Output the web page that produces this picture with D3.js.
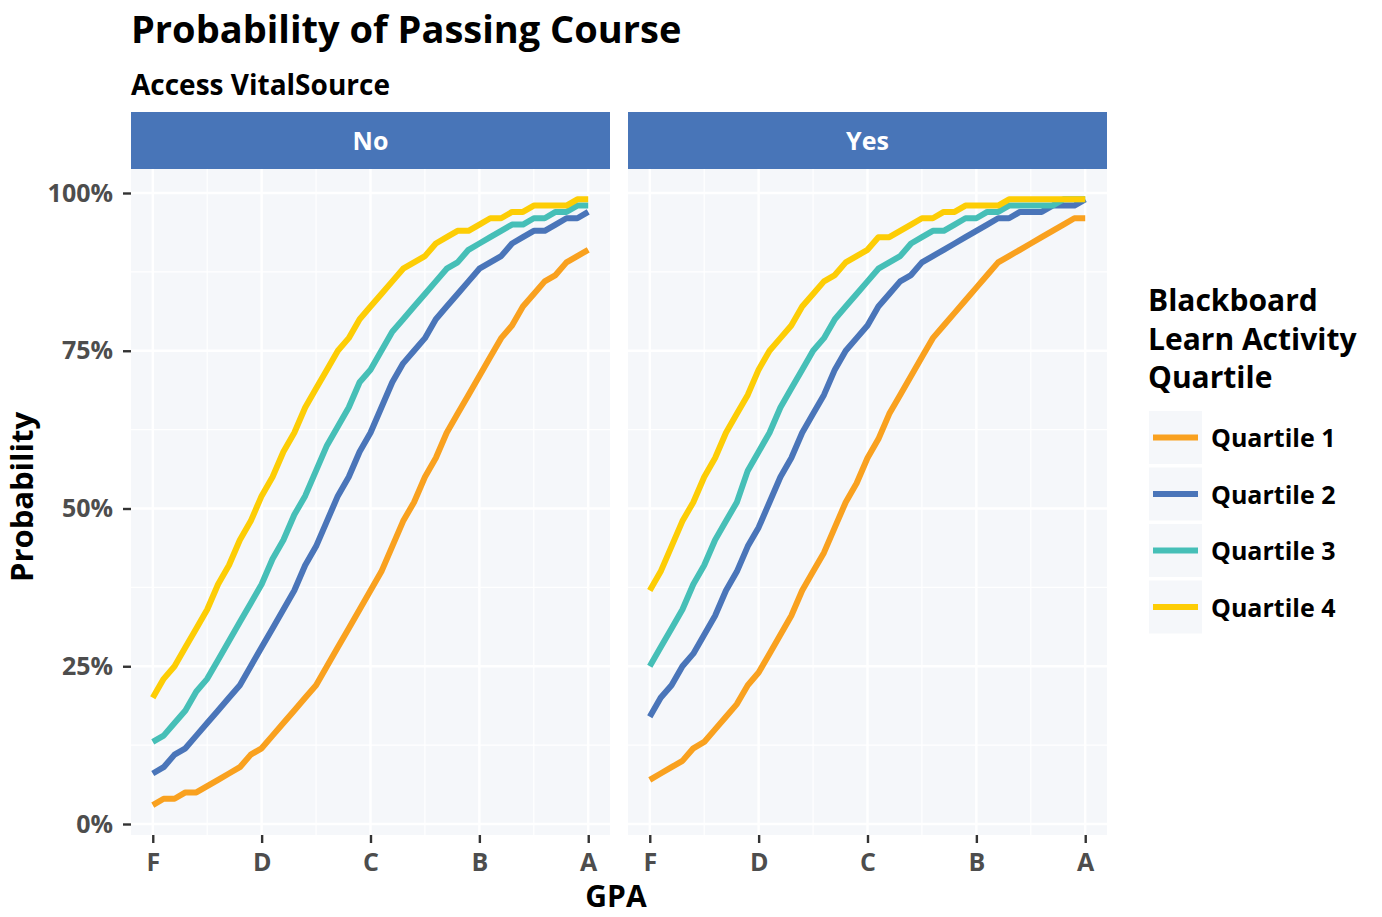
<!DOCTYPE html>
<html>
<head>
<meta charset="utf-8">
<script src="https://cdn.jsdelivr.net/npm/d3@7"></script>
<style>
  body { margin: 0; background: #fff; }
  svg { font-family: "Open Sans", Lato, sans-serif; font-weight: bold; }
</style>
</head>
<body>
<div id="chart"></div>
<script>
// gpa on a 0..4 scale, one point every 0.1
var gpa = [0, 0.1, 0.2, 0.3, 0.4, 0.5, 0.6, 0.7, 0.8, 0.9,
  1, 1.1, 1.2, 1.3, 1.4, 1.5, 1.6, 1.7, 1.8, 1.9,
  2, 2.1, 2.2, 2.3, 2.4, 2.5, 2.6, 2.7, 2.8, 2.9,
  3, 3.1, 3.2, 3.3, 3.4, 3.5, 3.6, 3.7, 3.8, 3.9, 4];
var gradeTicks = [0, 1, 2, 3, 4];
var gradeLabels = ["F", "D", "C", "B", "A"];
var probTicks = [0, 0.25, 0.5, 0.75, 1];
var facets = ["No", "Yes"];
var quartiles = ["Quartile 1", "Quartile 2", "Quartile 3", "Quartile 4"];
var colors = ["#F9A11F", "#4A75B9", "#46BFB7", "#FDCD05"];

// percent
var noQ1 = [3, 4, 4, 5, 5, 6, 7, 8, 9, 11, 12, 14, 16, 18, 20, 22, 25, 28, 31, 34, 37,
  40, 44, 48, 51, 55, 58, 62, 65, 68, 71, 74, 77, 79, 82, 84, 86, 87, 89, 90, 91];
var noQ2 = [8, 9, 11, 12, 14, 16, 18, 20, 22, 25, 28, 31, 34, 37, 41, 44, 48, 52, 55, 59, 62,
  66, 70, 73, 75, 77, 80, 82, 84, 86, 88, 89, 90, 92, 93, 94, 94, 95, 96, 96, 97];
var noQ3 = [13, 14, 16, 18, 21, 23, 26, 29, 32, 35, 38, 42, 45, 49, 52, 56, 60, 63, 66, 70, 72,
  75, 78, 80, 82, 84, 86, 88, 89, 91, 92, 93, 94, 95, 95, 96, 96, 97, 97, 98, 98];
var noQ4 = [20, 23, 25, 28, 31, 34, 38, 41, 45, 48, 52, 55, 59, 62, 66, 69, 72, 75, 77, 80, 82,
  84, 86, 88, 89, 90, 92, 93, 94, 94, 95, 96, 96, 97, 97, 98, 98, 98, 98, 99, 99];
var yesQ1 = [7, 8, 9, 10, 12, 13, 15, 17, 19, 22, 24, 27, 30, 33, 37, 40, 43, 47, 51, 54, 58,
  61, 65, 68, 71, 74, 77, 79, 81, 83, 85, 87, 89, 90, 91, 92, 93, 94, 95, 96, 96];
var yesQ2 = [17, 20, 22, 25, 27, 30, 33, 37, 40, 44, 47, 51, 55, 58, 62, 65, 68, 72, 75, 77, 79,
  82, 84, 86, 87, 89, 90, 91, 92, 93, 94, 95, 96, 96, 97, 97, 97, 98, 98, 98, 99];
var yesQ3 = [25, 28, 31, 34, 38, 41, 45, 48, 51, 56, 59, 62, 66, 69, 72, 75, 77, 80, 82, 84, 86,
  88, 89, 90, 92, 93, 94, 94, 95, 96, 96, 97, 97, 98, 98, 98, 98, 98, 99, 99, 99];
var yesQ4 = [37, 40, 44, 48, 51, 55, 58, 62, 65, 68, 72, 75, 77, 79, 82, 84, 86, 87, 89, 90, 91,
  93, 93, 94, 95, 96, 96, 97, 97, 98, 98, 98, 98, 99, 99, 99, 99, 99, 99, 99, 99];

var series = {
  No: [noQ1, noQ2, noQ3, noQ4],
  Yes: [yesQ1, yesQ2, yesQ3, yesQ4]
};

var width = 1382, height = 917;
var panelLeft = [131, 628];
var panelW = 479;
var stripTop = 112, panelTop = 169, panelBottom = 835;
var panelBg = "#F5F7FA";
var tickColor = "#4D4D4D";

var svg = d3.select("#chart")
  .append("svg")
  .attr("width", width)
  .attr("height", height);

var x = d3.scaleLinear().domain([-0.2, 4.2]).range([0, panelW]);
var y = d3.scaleLinear().domain([0, 1]).range([824, 193]);

var line = d3.line()
  .x((d, i) => x(gpa[i]))
  .y(d => y(d / 100));

facets.forEach(function (f, fi) {
  var g = svg.append("g").attr("transform", `translate(${panelLeft[fi]},0)`);

  g.append("rect")
    .attr("x", 0).attr("y", panelTop)
    .attr("width", panelW).attr("height", panelBottom - panelTop)
    .attr("fill", panelBg);

  // minor grid
  g.selectAll(".minorx")
    .data([0.5, 1.5, 2.5, 3.5])
    .enter().append("line")
    .attr("x1", d => x(d)).attr("x2", d => x(d))
    .attr("y1", panelTop).attr("y2", panelBottom)
    .attr("stroke", "#fff").attr("stroke-width", 1.2);
  g.selectAll(".minory")
    .data([0.125, 0.375, 0.625, 0.875])
    .enter().append("line")
    .attr("x1", 0).attr("x2", panelW)
    .attr("y1", d => y(d)).attr("y2", d => y(d))
    .attr("stroke", "#fff").attr("stroke-width", 1.2);

  // major grid
  g.selectAll(".majorx")
    .data(gradeTicks)
    .enter().append("line")
    .attr("x1", d => x(d)).attr("x2", d => x(d))
    .attr("y1", panelTop).attr("y2", panelBottom)
    .attr("stroke", "#fff").attr("stroke-width", 2.4);
  g.selectAll(".majory")
    .data(probTicks)
    .enter().append("line")
    .attr("x1", 0).attr("x2", panelW)
    .attr("y1", d => y(d)).attr("y2", d => y(d))
    .attr("stroke", "#fff").attr("stroke-width", 2.4);

  // strip
  g.append("rect")
    .attr("x", 0).attr("y", stripTop)
    .attr("width", panelW).attr("height", panelTop - stripTop)
    .attr("fill", "#4875B8");
  g.append("text")
    .attr("x", panelW / 2).attr("y", 150)
    .attr("text-anchor", "middle")
    .attr("fill", "#fff")
    .attr("font-size", 25)
    .text(f);

  // lines
  g.selectAll(".series")
    .data(series[f])
    .enter().append("path")
    .attr("d", line)
    .attr("fill", "none")
    .attr("stroke", (d, i) => colors[i])
    .attr("stroke-width", 6)
    .attr("stroke-linejoin", "round");

  // x axis
  var xAxis = g.append("g")
    .attr("transform", `translate(0,${panelBottom})`)
    .call(d3.axisBottom(x).tickValues(gradeTicks)
      .tickFormat((d, i) => gradeLabels[i]).tickSize(8).tickPadding(10));
  xAxis.select(".domain").remove();
  xAxis.selectAll(".tick line").attr("stroke", "#333").attr("stroke-width", 2.4);
  xAxis.selectAll(".tick text")
    .attr("fill", tickColor).attr("font-size", 25)
    .attr("font-family", "'Open Sans', sans-serif").attr("font-weight", "bold");
});

// y axis on left panel only
var yAxis = svg.append("g")
  .attr("transform", `translate(${panelLeft[0]},0)`)
  .call(d3.axisLeft(y).tickValues(probTicks)
    .tickFormat(d3.format(".0%")).tickSize(8).tickPadding(10));
yAxis.select(".domain").remove();
yAxis.selectAll(".tick line").attr("stroke", "#333").attr("stroke-width", 2.4);
yAxis.selectAll(".tick text")
  .attr("fill", tickColor).attr("font-size", 25)
  .attr("font-family", "'Open Sans', sans-serif").attr("font-weight", "bold");

// titles
svg.append("text")
  .attr("x", 131).attr("y", 43)
  .attr("font-size", 38)
  .text("Probability of Passing Course");
svg.append("text")
  .attr("x", 131).attr("y", 95)
  .attr("font-size", 28)
  .text("Access VitalSource");
svg.append("text")
  .attr("transform", "translate(33,497) rotate(-90)")
  .attr("text-anchor", "middle")
  .attr("font-size", 31)
  .text("Probability");
svg.append("text")
  .attr("x", 616).attr("y", 907)
  .attr("text-anchor", "middle")
  .attr("font-size", 30)
  .text("GPA");

// legend
var legendTitle = ["Blackboard", "Learn Activity", "Quartile"];
svg.selectAll(".ltitle")
  .data(legendTitle)
  .enter().append("text")
  .attr("x", 1148)
  .attr("y", (d, i) => 311 + i * 38.5)
  .attr("font-size", 30)
  .text(d => d);

var key = svg.selectAll(".key")
  .data(quartiles)
  .enter().append("g")
  .attr("transform", (d, i) => `translate(1149,${411 + i * 56.5})`);
key.append("rect")
  .attr("width", 53).attr("height", 53)
  .attr("fill", panelBg);
key.append("line")
  .attr("x1", 4).attr("x2", 49)
  .attr("y1", 26.5).attr("y2", 26.5)
  .attr("stroke", (d, i) => colors[i])
  .attr("stroke-width", 6);
key.append("text")
  .attr("x", 62).attr("y", 36)
  .attr("font-size", 25)
  .text(d => d);
</script>
</body>
</html>
